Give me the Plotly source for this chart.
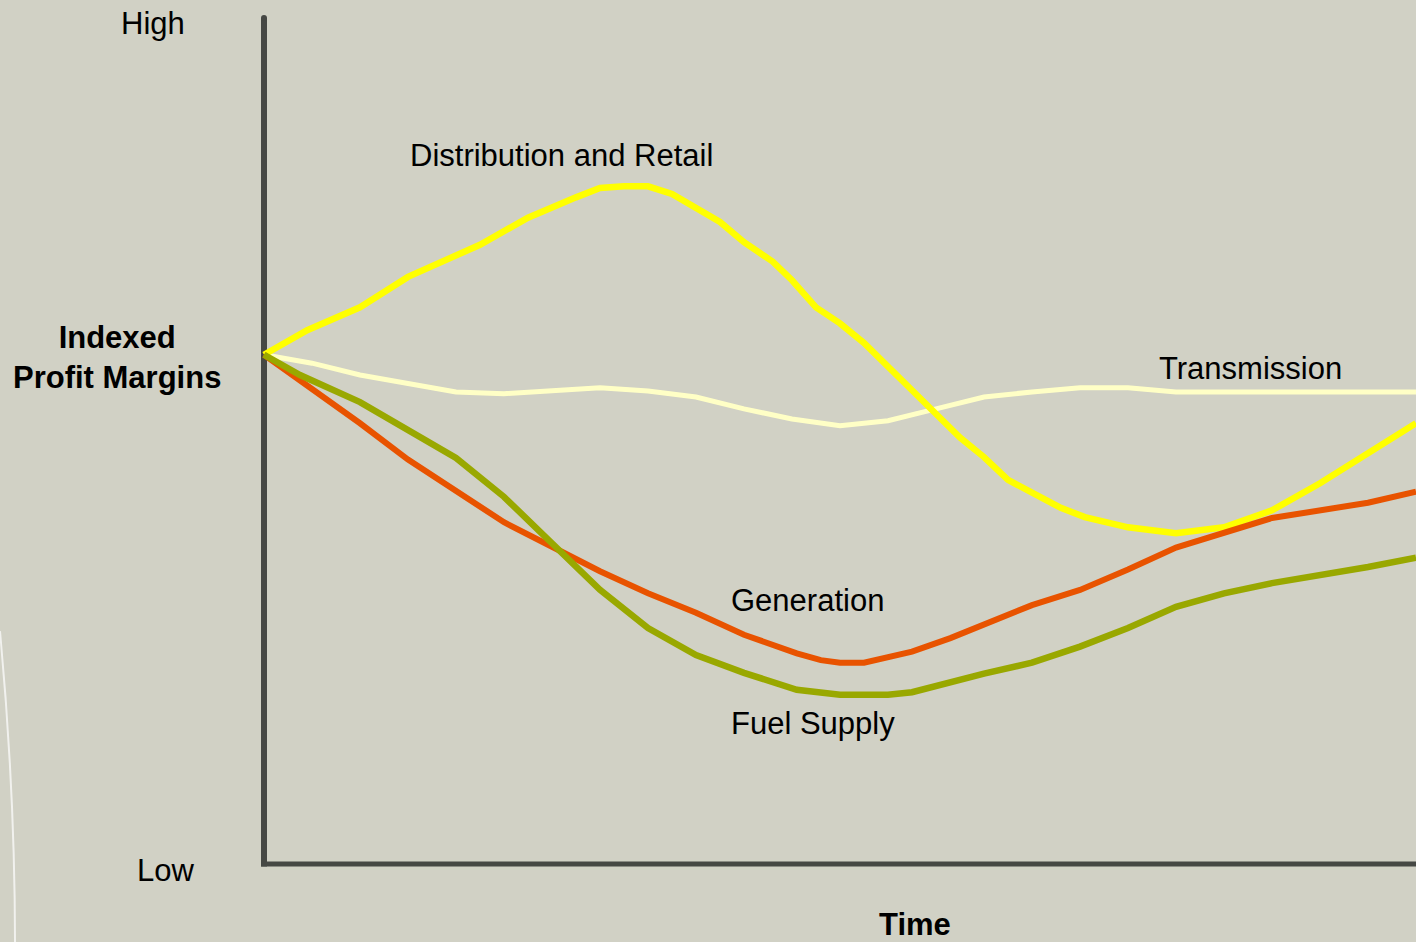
import plotly.graph_objects as go

# Indexed profit margins over time (Low = 0, High = 100), per value-chain segment
dist_time = [0, 0.9, 2, 3, 4.5, 5.5, 6.5, 7, 7.5, 8, 8.5, 9.5, 10, 10.6, 11, 11.5, 12,
             12.5, 13.5, 14.5, 15, 15.5, 16.6, 17.1, 18, 19, 20, 21, 22, 23, 24]
dist_margin = [60.2, 63.1, 65.8, 69.4, 73.2, 76.4, 78.8, 79.9, 80.1, 80.1, 79.2, 75.9, 73.5,
               71.2, 69.0, 65.8, 63.9, 61.6, 56.0, 50.4, 48.1, 45.4, 42.1, 41.0, 39.8, 39.1,
               39.8, 41.8, 45.0, 48.6, 52.1]

trans_time = [0, 1, 2, 4, 5, 7, 8, 9, 10, 11, 12, 13, 14, 15, 16, 17, 18, 19, 20, 24]
trans_margin = [60.2, 59.2, 57.8, 55.8, 55.6, 56.3, 55.9, 55.2, 53.8, 52.6, 51.8, 52.4, 53.8,
                55.2, 55.8, 56.3, 56.3, 55.8, 55.8, 55.8]

gen_time = [0, 0.75, 2, 3, 4, 5, 6, 7, 8, 9, 10, 11.1, 11.6, 12, 12.5, 13.5, 14.3, 15, 16, 17,
            18, 19, 20, 21, 23, 24]
gen_margin = [60.2, 57.2, 52.1, 47.8, 44.2, 40.4, 37.5, 34.6, 32.0, 29.7, 27.1, 24.9, 24.1,
              23.8, 23.8, 25.1, 26.7, 28.3, 30.6, 32.4, 34.8, 37.4, 39.1, 40.9, 42.7, 44.0]

fuel_time = [0, 0.75, 2, 3.5, 4, 5, 6, 7, 8, 9, 10, 11.1, 12, 13, 13.5, 14.3, 15, 16, 17, 18,
             19, 20, 21, 23, 24]
fuel_margin = [60.2, 57.8, 54.6, 49.8, 48.0, 43.4, 37.9, 32.4, 27.9, 24.7, 22.6, 20.6, 20.0,
               20.0, 20.3, 21.5, 22.5, 23.8, 25.7, 27.9, 30.4, 32.0, 33.2, 35.1, 36.2]

BG = "#D1D1C5"
AXIS = "#464844"
FONT = "Liberation Sans Narrow, Arial Narrow, Liberation Sans, Arial, sans-serif"

fig = go.Figure()

series = [
    (trans_time, trans_margin, "Transmission", "#FFFFC6", 5),
    (dist_time, dist_margin, "Distribution and Retail", "#FFFF00", 6.5),
    (gen_time, gen_margin, "Generation", "#E85300", 6),
    (fuel_time, fuel_margin, "Fuel Supply", "#99A800", 6.5),
]
for t, m, name, color, w in series:
    fig.add_trace(go.Scatter(x=t, y=m, mode="lines", name=name,
                             line=dict(color=color, width=w), hoverinfo="skip"))

# Axes drawn as plain strokes
fig.add_shape(type="line", xref="x", yref="y", x0=0, y0=100, x1=0, y1=-0.3,
              line=dict(color=AXIS, width=6), layer="below")
fig.add_shape(type="line", xref="x", yref="y", x0=-0.06, y0=0, x1=24.5, y1=0,
              line=dict(color=AXIS, width=5), layer="below")
# rounded cap on top of the vertical axis
fig.add_shape(type="circle", xref="x", yref="y", xsizemode="pixel", ysizemode="pixel",
              xanchor=0, yanchor=100, x0=-3, x1=3, y0=-3, y1=3,
              fillcolor=AXIS, line=dict(width=0), layer="below")

# Faint decorative swoosh at the left edge
fig.add_shape(type="path", xref="paper", yref="paper",
              path="M 0.0 0.33 Q 0.0105 0.16 0.0106 0.0",
              line=dict(color="rgba(255,255,255,0.7)", width=2), layer="below")

def label(text, x, y, size=31, bold=False, ref="x", xanchor="left"):
    fig.add_annotation(text=f"<b>{text}</b>" if bold else text, x=x, y=y,
                       xref="paper" if ref == "paper" else "x",
                       yref="paper" if ref == "paper" else "y",
                       showarrow=False, xanchor=xanchor, yanchor="middle",
                       font=dict(family=FONT, size=size, color="#000000"))

label("Distribution and Retail", 3.0, 83.8)
label("Transmission", 18.6, 58.6)
label("Generation", 9.69, 31.2)
label("Fuel Supply", 9.69, 16.6)

label("High", 153 / 1416, 1 - 24 / 942, ref="paper", xanchor="center")
label("Low", 165 / 1416, 1 - 870 / 942, ref="paper", xanchor="center")
label("Indexed<br>Profit Margins", 117 / 1416, 1 - 357 / 942, ref="paper",
      xanchor="center", bold=True)
label("Time", 915 / 1416, 1 - 924 / 942, ref="paper", xanchor="center", bold=True)

fig.update_layout(
    width=1416, height=942,
    margin=dict(l=0, r=0, t=0, b=0),
    paper_bgcolor=BG, plot_bgcolor=BG,
    showlegend=False,
    xaxis=dict(range=[-5.5, 24], visible=False, domain=[0, 1]),
    yaxis=dict(range=[-9.22, 102.13], visible=False, domain=[0, 1]),
)

fig.write_html("out.html")
